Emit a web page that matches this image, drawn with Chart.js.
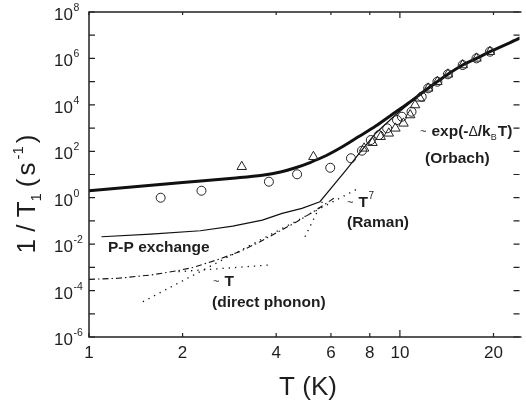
<!DOCTYPE html>
<html>
<head>
<meta charset="utf-8">
<script src="https://cdn.jsdelivr.net/npm/chart.js@4.4.1/dist/chart.umd.min.js"></script>
<style>
  html, body { margin: 0; padding: 0; background: #fff; }
  #wrap { width: 526px; height: 408px; }
</style>
</head>
<body>
<div id="wrap"><canvas id="chart" width="526" height="408"></canvas></div>
<script>
// measured relaxation rates (open circles)
const circleT = [1.70, 2.30, 3.79, 4.67, 5.97, 6.96, 7.55, 8.06, 8.56, 9.10, 9.79, 10.15, 10.9, 11.75, 12.33, 13.2, 14.27, 15.92, 17.63, 19.48];
const circleRate = [1.0, 2.0, 4.9, 10.2, 19.5, 50, 106, 305, 500, 975, 2220, 3080, 5060, 22400, 51600, 99300, 2.07e5, 5.2e5, 1.01e6, 1.95e6];

// measured relaxation rates (open triangles)
const triT = [3.10, 5.27, 7.67, 8.16, 8.67, 9.21, 9.67, 10.27, 10.79, 11.19, 11.6, 12.33, 13.2, 14.27, 15.92, 17.63, 19.48];
const triRate = [21.6, 58, 134, 234, 424, 594, 975, 1600, 3650, 9840, 19100, 51600, 99300, 2.07e5, 5.2e5, 1.01e6, 1.95e6];

// total fit (thick line)
const fitT = [1, 2, 2.9, 3.61, 4.13, 4.59, 5.14, 5.80, 6.55, 7.38, 8.36, 9.44, 10.66, 12.33, 14.27, 15.92, 17.63, 19.48, 24.4];
const fitRate = [2.0, 4.5, 6.9, 9.3, 12.8, 19.0, 32.8, 65.8, 160, 432, 1225, 3840, 12000, 51600, 2.07e5, 5.2e5, 1.01e6, 1.95e6, 7.6e6];

// P-P exchange + Orbach (thin line)
const ppT = [1.097, 1.58, 2.28, 2.90, 3.61, 4.18, 4.84, 5.53, 6.71, 7.40, 8.36, 9.6, 12.04];
const ppRate = [0.0208, 0.0272, 0.0378, 0.060, 0.109, 0.212, 0.348, 0.67, 15.6, 81.7, 600, 3300, 43600];

// direct + Raman (dash-dot)
const sumT = [1, 1.238, 1.58, 1.92, 2.17, 2.57, 3.05, 3.55, 4.66, 5.27, 5.80, 6.15];
const sumRate = [3.04e-4, 3.37e-4, 4.67e-4, 7.14e-4, 1.0e-3, 2.07e-3, 4.71e-3, 0.0127, 0.0923, 0.249, 0.573, 0.97];

// ~T^7 Raman (dotted)
const ramanT = [1.49, 7.3];
const ramanRate = [3.3e-5, 2.4];

// ~T direct phonon (dotted)
const directT = [1.94, 3.85];
const directRate = [6.5e-4, 1.28e-3];

// Orbach tail (dotted)
const orbachT = [4.95, 5.66];
const orbachRate = [0.0208, 0.79];

// axis ticks
const xTicks = [1, 2, 4, 6, 8, 10, 20];
const yExps = [-6, -5, -4, -3, -2, -1, 0, 1, 2, 3, 4, 5, 6, 7, 8];

const FONT = '"Liberation Sans", Arial, Helvetica, sans-serif';
const INK = '#1e1e1e';

function pts(xs, ys) {
    return xs.map((x, i) => ({ x: x, y: ys[i] }));
}

function lineSet(xs, ys, width, dash, interp) {
    return {
        type: 'line',
        data: pts(xs, ys),
        borderColor: '#111',
        borderWidth: width,
        borderDash: dash,
        pointRadius: 0,
        fill: false,
        cubicInterpolationMode: interp ? 'monotone' : 'default',
        tension: 0
    };
}

function markerSet(xs, ys, style, radius) {
    return {
        type: 'scatter',
        data: pts(xs, ys),
        pointStyle: style,
        pointRadius: radius,
        pointBorderWidth: 1,
        pointBorderColor: '#222',
        pointBackgroundColor: 'rgba(0,0,0,0)',
        showLine: false
    };
}

// draw "10" with an exponent
function drawPow(ctx, exp, x, yc) {
    ctx.fillStyle = INK;
    ctx.textAlign = 'left';
    ctx.textBaseline = 'alphabetic';
    ctx.font = '17px ' + FONT;
    const base = yc + 8;
    ctx.fillText('10', x, base);
    const w = ctx.measureText('10').width;
    ctx.font = '10.5px ' + FONT;
    ctx.fillText(String(exp), x + w + 0.5, base - 9);
}

// draw a run of text pieces [text, font, dy, gap]
function drawRun(ctx, parts, x, y) {
    ctx.textAlign = 'left';
    ctx.textBaseline = 'alphabetic';
    let cx = x;
    parts.forEach(p => {
        ctx.font = p[1];
        ctx.fillText(p[0], cx, y + (p[2] || 0));
        cx += ctx.measureText(p[0]).width + (p[3] || 0);
    });
    return cx - x;
}

function runWidth(ctx, parts) {
    let w = 0;
    parts.forEach(p => {
        ctx.font = p[1];
        w += ctx.measureText(p[0]).width + (p[3] || 0);
    });
    return w;
}

const framePlugin = {
    id: 'frame',
    afterDraw(chart) {
        const ctx = chart.ctx;
        const a = chart.chartArea;
        const xs = chart.scales.x;
        const ys = chart.scales.y;
        ctx.save();

        // frame (left, top, bottom)
        ctx.strokeStyle = '#222';
        ctx.lineWidth = 1.5;
        ctx.beginPath();
        ctx.moveTo(a.right + 2, a.top);
        ctx.lineTo(a.left, a.top);
        ctx.lineTo(a.left, a.bottom);
        ctx.lineTo(a.right + 2, a.bottom);
        ctx.stroke();

        // x ticks
        ctx.lineWidth = 1.2;
        xTicks.forEach(t => {
            const px = xs.getPixelForValue(t);
            const big = t === 10;
            ctx.beginPath();
            ctx.moveTo(px, a.bottom);
            ctx.lineTo(px, a.bottom - (big ? 7 : 4));
            ctx.moveTo(px, a.top);
            ctx.lineTo(px, a.top + (big ? 6 : 3));
            ctx.stroke();
            ctx.fillStyle = INK;
            ctx.font = '17px ' + FONT;
            ctx.textAlign = 'center';
            ctx.textBaseline = 'middle';
            ctx.fillText(String(t), px, a.bottom + 16);
        });

        // y ticks
        yExps.forEach(e => {
            const py = ys.getPixelForValue(Math.pow(10, e));
            ctx.beginPath();
            ctx.moveTo(a.left, py);
            ctx.lineTo(a.left + 6, py);
            ctx.moveTo(a.right, py);
            ctx.lineTo(a.right - 6, py);
            ctx.stroke();
            if (e % 2 === 0) {
                drawPow(ctx, e, 54, py);
            }
        });

        ctx.fillStyle = INK;

        // x title
        ctx.font = '26px ' + FONT;
        ctx.textAlign = 'center';
        ctx.textBaseline = 'middle';
        ctx.fillText('T (K)', 308, 388);

        // y title
        const big = '26px ' + FONT;
        const small = '15px ' + FONT;
        const yParts = [
            ['1 / T', big, 0],
            ['1', small, 6, 6],
            ['(', big, 0, 3],
            ['s', big, 0, 3],
            ['-1', small, -12, 3],
            [')', big, 0]
        ];
        ctx.save();
        ctx.translate(35, 194);
        ctx.rotate(-Math.PI / 2);
        const w = runWidth(ctx, yParts);
        drawRun(ctx, yParts, -w / 2, 0);
        ctx.restore();

        // annotations
        const bold = 'bold 15.5px ' + FONT;
        const tilde = '11px ' + FONT;
        ctx.textBaseline = 'alphabetic';
        drawRun(ctx, [['P-P exchange', bold, 0]], 108, 251.5);
        drawRun(ctx, [['~', tilde, -1, 5], ['T', bold, 0]], 213, 286);
        drawRun(ctx, [['(direct phonon)', bold, 0]], 212, 306.5);
        drawRun(ctx, [['~', tilde, -1, 5], ['T', bold, 0, 0.5], ['7', '10px ' + FONT, -8]], 347, 207);
        drawRun(ctx, [['(Raman)', bold, 0]], 347, 227);
        drawRun(ctx, [
            ['~', tilde, -1, 5],
            ['exp(-', bold, 0],
            ['\u0394', '14px ' + FONT, 0],
            ['/k', bold, 0],
            ['B', '9px ' + FONT, 4, 1],
            ['T)', bold, 0]
        ], 420, 135.5);
        drawRun(ctx, [['(Orbach)', bold, 0]], 425, 163);

        ctx.restore();
    }
};

new Chart(document.getElementById('chart'), {
    data: {
        datasets: [
            markerSet(circleT, circleRate, 'circle', 4.5),
            markerSet(triT, triRate, 'triangle', 5.5),
            lineSet(fitT, fitRate, 3, [], true),
            lineSet(ppT, ppRate, 1.2, [], false),
            lineSet(sumT, sumRate, 1.1, [6, 3, 1.5, 3], false),
            lineSet(ramanT, ramanRate, 1.3, [1.3, 5], false),
            lineSet(directT, directRate, 1.3, [1.3, 5], false),
            lineSet(orbachT, orbachRate, 1.3, [1.3, 5], false)
        ]
    },
    options: {
        responsive: false,
        animation: false,
        devicePixelRatio: 1,
        layout: { padding: { left: 89, top: 12, right: 0, bottom: 71 } },
        plugins: {
            legend: { display: false },
            tooltip: { enabled: false }
        },
        scales: {
            x: { type: 'logarithmic', min: 1, max: 24.25, display: false },
            y: { type: 'logarithmic', min: 1e-6, max: 1e8, display: false }
        }
    },
    plugins: [framePlugin]
});
</script>
</body>
</html>
